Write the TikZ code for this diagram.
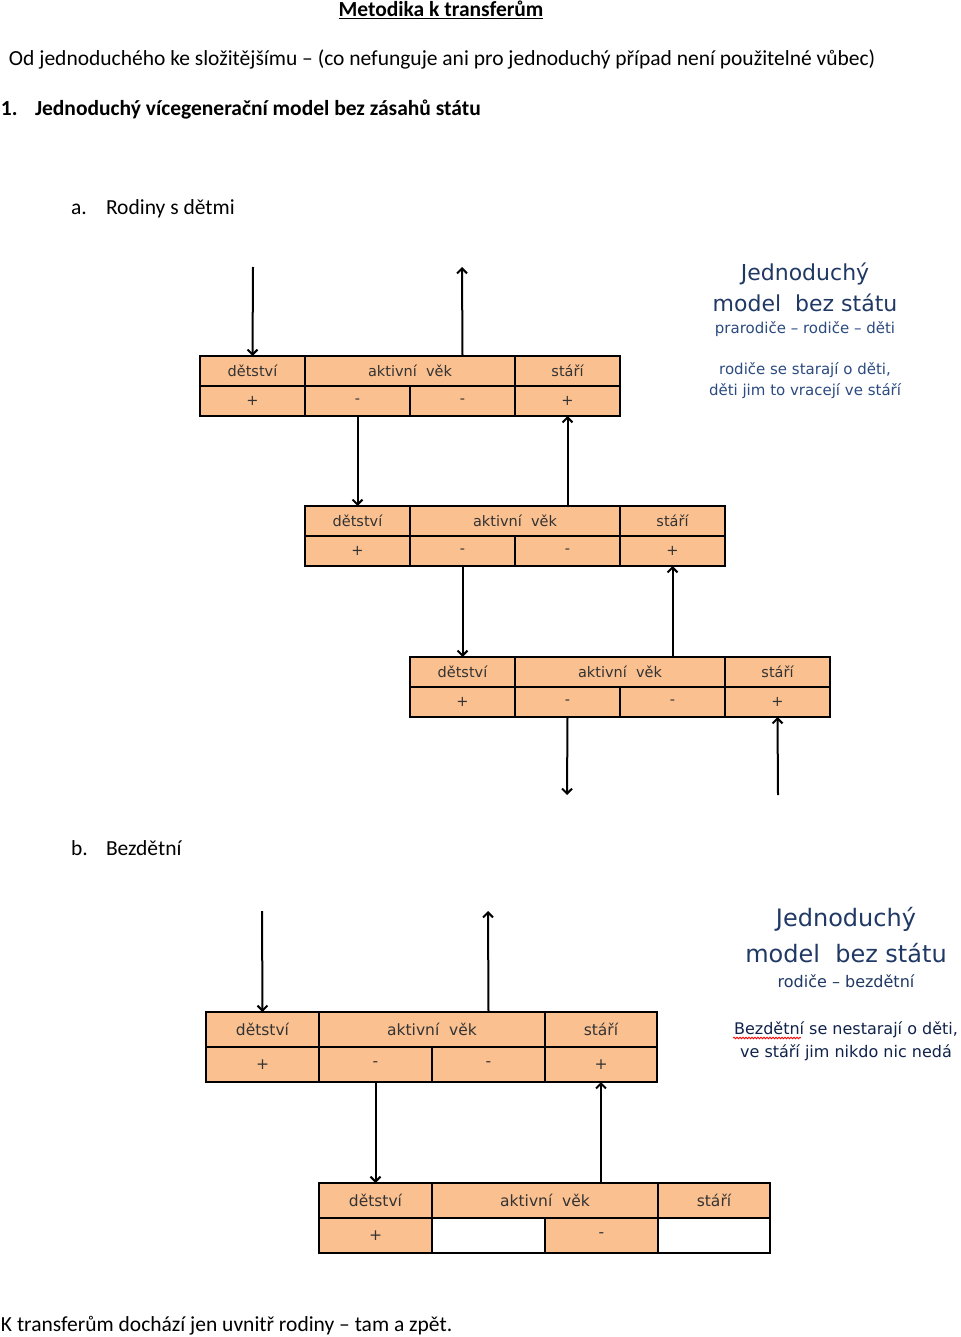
\documentclass[tikz,border=0pt]{standalone}
\usepackage{fontspec}
\setmainfont{Carlito}
\newfontfamily\tabfont{DejaVu Sans}
\usetikzlibrary{positioning,arrows.meta,decorations.pathmorphing}
\definecolor{peach}{HTML}{FAC090}
\definecolor{navy}{HTML}{1F3864}
\definecolor{navylight}{HTML}{2B4A80}
\definecolor{navydark}{HTML}{10224A}
\begin{document}
\begin{tikzpicture}[x=1pt, y=-1pt, line width=2pt,
    cell/.style = {draw, fill=peach, inner sep=0pt, outer sep=0pt, text=black!80},
    cella/.style = {cell, minimum height=30, font=\tabfont\fontsize{14.5}{16}\selectfont},
    cellb/.style = {cell, minimum height=35, font=\tabfont\fontsize{15.5}{18}\selectfont},
    empty/.style = {fill=white},
    txt/.style = {inner sep=0pt, anchor=base west, font=\fontsize{21.5}{25}\selectfont},
    head/.style = {txt, font=\bfseries\fontsize{21.5}{25}\selectfont},
    bluebig/.style = {inner sep=0pt, anchor=base, text=navy, font=\tabfont\fontsize{22}{26}\selectfont},
    bluesmall/.style = {inner sep=0pt, anchor=base, text=navylight, font=\tabfont\fontsize{15}{18}\selectfont},
    arr/.style = {-{Straight Barb[length=5pt, width=10pt]}, line width=2pt}]

	\useasboundingbox (0,0) rectangle (960,1337);

	% headings
	\node[head, anchor=base] (title) at (441,17) {\underline{Metodika k transferům}};
	\node[txt] (intro) at (8,66) {Od jednoduchého ke složitějšímu – (co nefunguje ani pro jednoduchý případ není použitelné vůbec)};
	\node[head] (n1) at (0,116) {1.};
	\node[head] (h1) at (34,116) {Jednoduchý vícegenerační model bez zásahů státu};
	\node[txt] (na) at (70,215) {a.};
	\node[txt] (ha) at (105,215) {Rodiny s dětmi};
	\node[txt] (nb) at (70,855) {b.};
	\node[txt] (hb) at (105,855) {Bezdětní};
	\node[txt] (end) at (0,1331) {K transferům dochází jen uvnitř rodiny – tam a zpět.};

	% a. generation 1
	\node[cella, minimum width=105, anchor=north west] (a1d) at (200,356) {dětství};
	\node[cella, minimum width=210, right=0pt of a1d] (a1a) {aktivní\ \ věk};
	\node[cella, minimum width=105, right=0pt of a1a] (a1s) {stáří};
	\node[cella, minimum width=105, below=0pt of a1d] (a1p1) {+};
	\node[cella, minimum width=105, right=0pt of a1p1] (a1m1) {-};
	\node[cella, minimum width=105, right=0pt of a1m1] (a1m2) {-};
	\node[cella, minimum width=105, right=0pt of a1m2] (a1p2) {+};

	% a. generation 2
	\node[cella, minimum width=105, anchor=north west] (a2d) at (305,506) {dětství};
	\node[cella, minimum width=210, right=0pt of a2d] (a2a) {aktivní\ \ věk};
	\node[cella, minimum width=105, right=0pt of a2a] (a2s) {stáří};
	\node[cella, minimum width=105, below=0pt of a2d] (a2p1) {+};
	\node[cella, minimum width=105, right=0pt of a2p1] (a2m1) {-};
	\node[cella, minimum width=105, right=0pt of a2m1] (a2m2) {-};
	\node[cella, minimum width=105, right=0pt of a2m2] (a2p2) {+};

	% a. generation 3
	\node[cella, minimum width=105, anchor=north west] (a3d) at (410,657) {dětství};
	\node[cella, minimum width=210, right=0pt of a3d] (a3a) {aktivní\ \ věk};
	\node[cella, minimum width=105, right=0pt of a3a] (a3s) {stáří};
	\node[cella, minimum width=105, below=0pt of a3d] (a3p1) {+};
	\node[cella, minimum width=105, right=0pt of a3p1] (a3m1) {-};
	\node[cella, minimum width=105, right=0pt of a3m1] (a3m2) {-};
	\node[cella, minimum width=105, right=0pt of a3m2] (a3p2) {+};

	\coordinate (ain) at (253,267);
	\coordinate (aout) at (462,267);
	\coordinate (adown) at (567,795);
	\coordinate (aup) at (778,795);

	\draw[arr] (ain) -- (a1d.north);
	\draw[arr] (a1m2.south |- a1a.north) -- (aout);
	\draw[arr] (a1m1.south) -- (a2d.north);
	\draw[arr] (a1p2.south |- a2a.north) -- (a1p2.south);
	\draw[arr] (a2m1.south) -- (a3d.north);
	\draw[arr] (a2p2.south |- a3a.north) -- (a2p2.south);
	\draw[arr] (a3m1.south) -- (adown);
	\draw[arr] (aup) -- (a3p2.south);

	\node[bluebig] (ta1) at (805,280) {Jednoduchý};
	\node[bluebig] (ta2) at (805,311) {model\ \ bez státu};
	\node[bluesmall] (ta3) at (805,333) {prarodiče – rodiče – děti};
	\node[bluesmall] (ta4) at (805,374) {rodiče se starají o děti,};
	\node[bluesmall] (ta5) at (805,395) {děti jim to vracejí ve stáří};

	% b. generation 1
	\node[cellb, minimum width=113, anchor=north west] (b1d) at (206,1012) {dětství};
	\node[cellb, minimum width=226, right=0pt of b1d] (b1a) {aktivní\ \ věk};
	\node[cellb, minimum width=112, right=0pt of b1a] (b1s) {stáří};
	\node[cellb, minimum width=113, below=0pt of b1d] (b1p1) {+};
	\node[cellb, minimum width=113, right=0pt of b1p1] (b1m1) {-};
	\node[cellb, minimum width=113, right=0pt of b1m1] (b1m2) {-};
	\node[cellb, minimum width=112, right=0pt of b1m2] (b1p2) {+};

	% b. generation 2
	\node[cellb, minimum width=113, anchor=north west] (b2d) at (319,1183) {dětství};
	\node[cellb, minimum width=226, right=0pt of b2d] (b2a) {aktivní\ \ věk};
	\node[cellb, minimum width=112, right=0pt of b2a] (b2s) {stáří};
	\node[cellb, minimum width=113, below=0pt of b2d] (b2p1) {+};
	\node[cellb, empty, minimum width=113, right=0pt of b2p1] (b2e1) {};
	\node[cellb, minimum width=113, right=0pt of b2e1] (b2m1) {-};
	\node[cellb, empty, minimum width=112, right=0pt of b2m1] (b2e2) {};

	\coordinate (bin) at (262,911);
	\coordinate (bout) at (488,911);

	\draw[arr] (bin) -- (b1d.north);
	\draw[arr] (b1m2.south |- b1a.north) -- (bout);
	\draw[arr] (b1m1.south) -- (b2d.north);
	\draw[arr] (b1p2.south |- b2a.north) -- (b1p2.south);

	\node[bluebig, font=\tabfont\fontsize{24}{28}\selectfont] (tb1) at (846,926) {Jednoduchý};
	\node[bluebig, font=\tabfont\fontsize{24}{28}\selectfont] (tb2) at (846,962) {model\ \ bez státu};
	\node[bluesmall, text=navy, font=\tabfont\fontsize{16}{19}\selectfont] (tb3) at (846,987) {rodiče – bezdětní};
	\node[bluesmall, text=navydark, font=\tabfont\fontsize{16}{19}\selectfont] (tb4) at (846,1034) {Bezdětní se nestarají o děti,};
	\node[bluesmall, text=navydark, font=\tabfont\fontsize{16}{19}\selectfont] (tb5) at (846,1057) {ve stáří jim nikdo nic nedá};
	\draw[red, line width=0.8pt, decorate, decoration={snake, amplitude=0.8pt, segment length=3pt}]
		(tb4.base west) ++(0,4) -- ++(68,0);
\end{tikzpicture}
\end{document}
